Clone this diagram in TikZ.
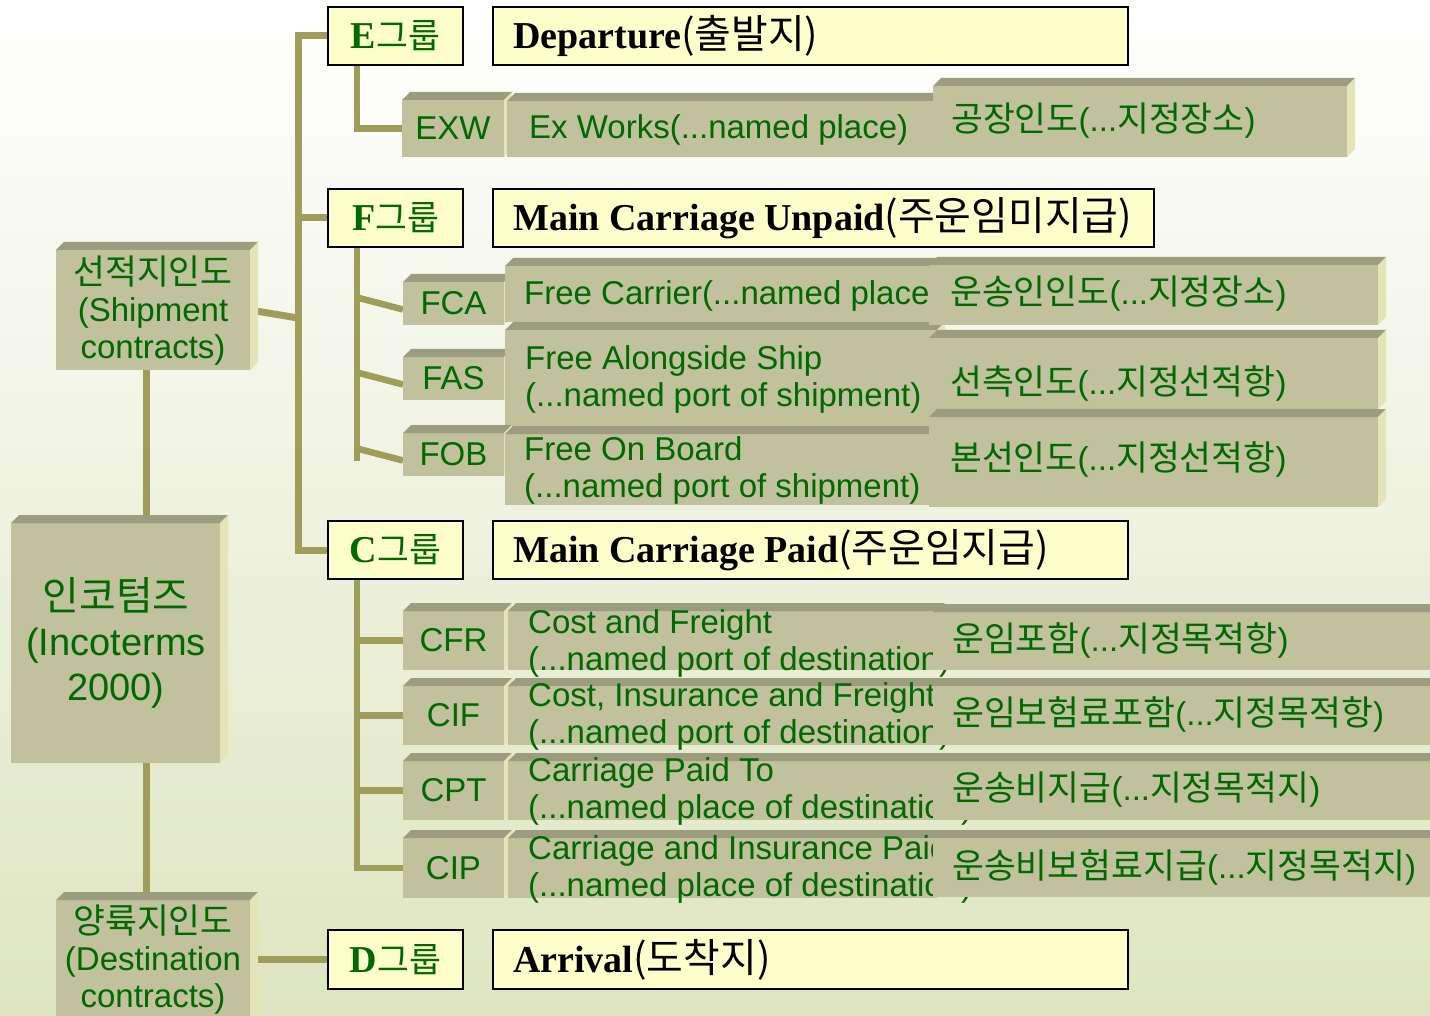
\documentclass[tikz,border=0pt]{standalone}
\usepackage{fontspec}
\setmainfont{Liberation Sans}
\newfontfamily\kr[Scale=1.05]{Noto Sans CJK KR}
\newfontfamily\srf{Liberation Serif}
\usetikzlibrary{calc}
\pgfdeclarelayer{back}
\pgfdeclarelayer{bg}
\pgfsetlayers{back,bg,main}
\definecolor{gtx}{RGB}{0,105,0}
\definecolor{facec}{RGB}{193,193,157}
\definecolor{topc}{RGB}{156,156,126}
\definecolor{rightc}{RGB}{228,228,182}
\definecolor{linec}{RGB}{160,156,90}
\definecolor{grpfill}{RGB}{255,255,204}
\definecolor{bgmid}{RGB}{246,247,236}
\definecolor{bgbot}{RGB}{222,229,192}
\tikzset{
  face/.style={fill=facec, draw=none, inner sep=0pt, outer sep=0pt, anchor=north west},
  gt/.style={text=gtx, font=\fontsize{33}{37}\selectfont, inner sep=0pt, align=left},
  gtc/.style={gt, align=center},
  blk/.style={text=black, font=\fontsize{38}{44}\selectfont, inner sep=0pt},
  grp/.style={draw=black, line width=2pt, fill=grpfill, minimum height=58pt, inner sep=0pt, outer sep=0pt, anchor=north west},
  conn/.style={draw=linec, line width=7pt},
  subconn/.style={draw=linec, line width=6.5pt},
}
\newcommand{\bevbox}[5]{%
  \node[face, minimum width={(#4-#2-8)*1pt}, minimum height={(#5-#3-8)*1pt}] (#1) at (#2,{#3+8}) {};
  \fill[topc] (#1.north west) -- ++(8,-8) -- ($(#1.north east)+(8,-8)$) -- (#1.north east) -- cycle;
  \fill[rightc] (#1.north east) -- ++(8,-8) -- ($(#1.south east)+(8,-8)$) -- (#1.south east) -- cycle;
}
\newcommand{\grplabel}[1]{{\srf\bfseries\fontsize{38}{44}\selectfont #1}{\kr\fontsize{33}{40}\selectfont 그룹}}
\begin{document}
\begin{tikzpicture}[x=1pt,y=-1pt]
\useasboundingbox (0,0) rectangle (1430,1016);
\begin{pgfonlayer}{back}
\shade[top color=white, middle color=bgmid, bottom color=bgbot] (0,0) rectangle (1430,1016);
\end{pgfonlayer}

% left column
\bevbox{ship}{56}{242}{258}{370}
\bevbox{inco}{11}{515}{228}{763}
\bevbox{dest}{56}{892}{258}{1030}
\node[gtc] (ship-t) at (153,311) {{\kr 선적지인도}\\(Shipment\\contracts)};
\node[gtc, font=\fontsize{38}{45}\selectfont] (inco-t) at (116,643) {{\kr 인코텀즈}\\(Incoterms\\2000)};
\node[gtc] (dest-t) at (153,960) {{\kr 양륙지인도}\\(Destination\\contracts)};

% group boxes
\node[grp, minimum width=135pt] (egrp) at (328,7) {};
\node[grp, minimum width=635pt] (dep) at (493,7) {};
\node[grp, minimum width=135pt] (fgrp) at (328,189) {};
\node[grp, minimum width=661pt] (mcu) at (493,189) {};
\node[grp, minimum width=135pt] (cgrp) at (328,521) {};
\node[grp, minimum width=635pt] (mcp) at (493,521) {};
\node[grp, minimum width=135pt, minimum height=59pt] (dgrp) at (328,930) {};
\node[grp, minimum width=635pt, minimum height=59pt] (arr) at (493,930) {};
\node[text=gtx, inner sep=0pt] (egrp-t) at (egrp) {\grplabel{E}};
\node[text=gtx, inner sep=0pt] (fgrp-t) at (fgrp) {\grplabel{F}};
\node[text=gtx, inner sep=0pt] (cgrp-t) at (cgrp) {\grplabel{C}};
\node[text=gtx, inner sep=0pt] (dgrp-t) at (dgrp) {\grplabel{D}};
\node[blk, anchor=west] (dep-t) at ($(dep.west)+(20,0)$) {{\srf\bfseries Departure}{\kr (출발지)}};
\node[blk, anchor=west] (mcu-t) at ($(mcu.west)+(20,0)$) {{\srf\bfseries Main Carriage Unpaid}{\kr (주운임미지급)}};
\node[blk, anchor=west] (mcp-t) at ($(mcp.west)+(20,0)$) {{\srf\bfseries Main Carriage Paid}{\kr (주운임지급)}};
\node[blk, anchor=west] (arr-t) at ($(arr.west)+(20,0)$) {{\srf\bfseries Arrival}{\kr (도착지)}};

% E rows
\bevbox{exw}{402}{92}{512}{157}
\bevbox{exwd}{507}{93}{945}{157}
\node[gtc] (exw-t) at (exw) {EXW};
\node[gt, anchor=west] (exwd-t) at (529,130) {Ex Works(...named place)};

% F rows
\bevbox{fca}{403}{274}{512}{325}
\bevbox{fcad}{505}{258}{945}{322}
\bevbox{fas}{403}{349}{512}{400}
\bevbox{fasd}{505}{322}{945}{427}
\bevbox{fob}{403}{425}{512}{476}
\bevbox{fobd}{505}{426}{945}{505}
\node[gtc] (fca-t) at (fca) {FCA};
\node[gtc] (fas-t) at (fas) {FAS};
\node[gtc] (fob-t) at (fob) {FOB};
\node[gt, anchor=west] (fcad-t) at (524,296) {Free Carrier(...named place)};
\node[gt, anchor=west] (fasd-t) at (525,379) {Free Alongside Ship\\(...named port of shipment)};
\node[gt, anchor=west] (fobd-t) at (524,470) {Free On Board\\(...named port of shipment)};

% C rows
\bevbox{cfr}{403}{603}{512}{670}
\bevbox{cfrd}{508}{603}{945}{670}
\bevbox{cif}{403}{678}{512}{745}
\bevbox{cifd}{508}{678}{945}{745}
\bevbox{cpt}{403}{753}{512}{820}
\bevbox{cptd}{508}{753}{945}{820}
\bevbox{cip}{403}{830}{512}{898}
\bevbox{cipd}{508}{830}{945}{898}
\node[gtc] (cfr-t) at (cfr) {CFR};
\node[gtc] (cif-t) at (cif) {CIF};
\node[gtc] (cpt-t) at (cpt) {CPT};
\node[gtc] (cip-t) at (cip) {CIP};
\node[gt, anchor=west] (cfrd-t) at (528,643) {Cost and Freight\\(...named port of destination)};
\node[gt, anchor=west] (cifd-t) at (528,716) {Cost, Insurance and Freight\\(...named port of destination)};
\node[gt, anchor=west] (cptd-t) at (528,791) {Carriage Paid To\\(...named place of destination)};
\node[gt, anchor=west] (cipd-t) at (528,869) {Carriage and Insurance Paid\\(...named place of destination)};

% Korean column
\bevbox{exwk}{933}{78}{1355}{157}
\bevbox{fcak}{929}{257}{1386}{325}
\bevbox{fask}{929}{330}{1386}{409}
\bevbox{fobk}{929}{409}{1386}{507}
\bevbox{cfrk}{933}{604}{1445}{670}
\bevbox{cifk}{933}{678}{1445}{745}
\bevbox{cptk}{933}{753}{1445}{820}
\bevbox{cipk}{933}{830}{1445}{897}
\node[gt, anchor=west] (exwk-t) at (951,121) {{\kr 공장인도}(...{\kr 지정장소})};
\node[gt, anchor=west] (fcak-t) at (950,294) {{\kr 운송인인도}(...{\kr 지정장소})};
\node[gt, anchor=west] (fask-t) at (950,383) {{\kr 선측인도}(...{\kr 지정선적항})};
\node[gt, anchor=west] (fobk-t) at (950,459) {{\kr 본선인도}(...{\kr 지정선적항})};
\node[gt, anchor=west] (cfrk-t) at (952,640) {{\kr 운임포함}(...{\kr 지정목적항})};
\node[gt, anchor=west] (cifk-t) at (952,714) {{\kr 운임보험료포함}(...{\kr 지정목적항})};
\node[gt, anchor=west] (cptk-t) at (952,790) {{\kr 운송비지급}(...{\kr 지정목적지})};
\node[gt, anchor=west] (cipk-t) at (952,867) {{\kr 운송비보험료지급}(...{\kr 지정목적지})};

% connectors
\begin{pgfonlayer}{bg}
\coordinate (j1) at (146,0);
\coordinate (tr) at (298,0);
\coordinate (se) at (357,0);
\draw[conn] (j1 |- ship.south) -- (j1 |- inco.north);
\draw[conn] (j1 |- inco.south) -- (j1 |- dest.north);
\draw[conn] (ship.east) -- ($(tr |- ship.east)+(0,8)$);
\draw[conn] (egrp.west) -- (tr |- egrp.west) -- (tr |- cgrp.west) -- (cgrp.west);
\draw[conn] (tr |- fgrp.west) -- (fgrp.west);
\draw[conn] (dest.east |- dgrp.west) -- (dgrp.west);
\draw[subconn] (se |- egrp.south) -- (se |- exw.west) -- (exw.west);
\draw[subconn] (se |- fgrp.south) -- ($(se |- fob.west)+(0,6)$);
\draw[subconn] ($(se |- fca.west)+(0,-6)$) -- ($(fca.west)+(0,6)$);
\draw[subconn] ($(se |- fas.west)+(0,-6)$) -- ($(fas.west)+(0,6)$);
\draw[subconn] ($(se |- fob.west)+(0,-6)$) -- ($(fob.west)+(0,6)$);
\draw[subconn] (se |- cgrp.south) -- (se |- cip.west) -- (cip.west);
\draw[subconn] (se |- cfr.west) -- (cfr.west);
\draw[subconn] (se |- cif.west) -- (cif.west);
\draw[subconn] (se |- cpt.west) -- (cpt.west);
\end{pgfonlayer}
\end{tikzpicture}
\end{document}
